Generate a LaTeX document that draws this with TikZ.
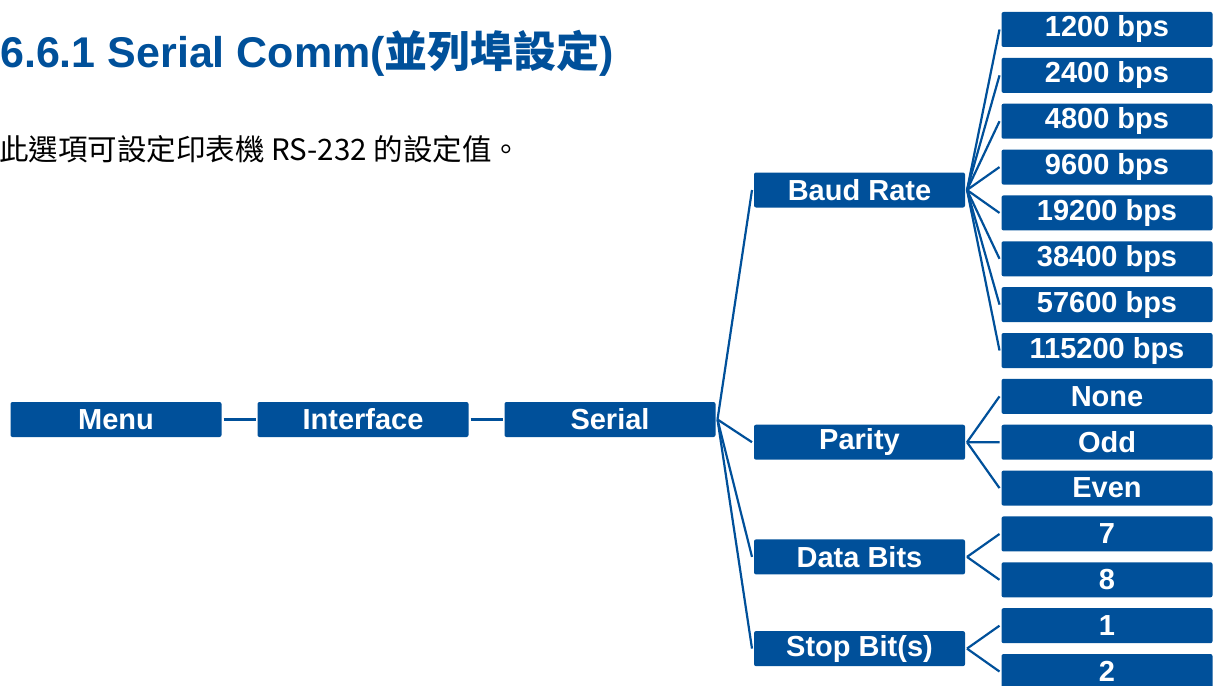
\documentclass[tikz,border=0pt]{standalone}
\usepackage{fontspec}
\setmainfont{Liberation Sans}
\newfontfamily\cjk{Noto Sans CJK TC}
\usepackage{xcolor}
\definecolor{menublue}{HTML}{00509A}
\usepackage{tikz}
\usetikzlibrary{positioning}

\begin{document}
\begin{tikzpicture}[
  x=1pt, y=-1pt,
  item/.style={rectangle, rounded corners=2pt, fill=menublue, text=white,
               minimum width=211pt, minimum height=35pt, inner sep=0pt,
               outer xsep=2pt, outer ysep=0pt,
               font=\fontsize{29}{31}\selectfont\bfseries},
  link/.style={draw=menublue, line width=2.2pt},
]
\useasboundingbox (0,0) rectangle (1214,685);

% heading
\node[anchor=base west, inner sep=0pt, text=menublue,
      font=\fontsize{43}{47}\selectfont\bfseries] (title) at (0,67)
  {6.6.1 Serial Comm({\cjk\bfseries 並列埠設定})};
\node[anchor=base west, inner sep=0pt,
      font=\cjk\fontsize{29.5}{33}\selectfont] (intro) at (-1,160)
  {此選項可設定印表機 RS-232 的設定值。};

% menu path
\node[item] (menu) at (116,419.5) {Menu};
\node[item, right=32pt of menu]  (iface)  {Interface};
\node[item, right=32pt of iface] (serial) {Serial};

% serial settings
\node[item] (baud)     at (859.5,190)   {Baud Rate};
\node[item] (parity)   at (859.5,442.2) {Parity};
\node[item] (databits) at (859.5,556.9) {Data Bits};
\node[item] (stopbits) at (859.5,648.6) {Stop Bit(s)};

% values
\node[item] (b1200) at (1107,29.5) {1200 bps};
\node[item, below=10.86pt of b1200]  (b2400)   {2400 bps};
\node[item, below=10.86pt of b2400]  (b4800)   {4800 bps};
\node[item, below=10.86pt of b4800]  (b9600)   {9600 bps};
\node[item, below=10.86pt of b9600]  (b19200)  {19200 bps};
\node[item, below=10.86pt of b19200] (b38400)  {38400 bps};
\node[item, below=10.86pt of b38400] (b57600)  {57600 bps};
\node[item, below=10.86pt of b57600] (b115200) {115200 bps};
\node[item, below=10.86pt of b115200] (pnone)  {None};
\node[item, below=10.86pt of pnone]  (podd)    {Odd};
\node[item, below=10.86pt of podd]   (peven)   {Even};
\node[item, below=10.86pt of peven]  (d7)      {7};
\node[item, below=10.86pt of d7]     (d8)      {8};
\node[item, below=10.86pt of d8]     (s1)      {1};
\node[item, below=10.86pt of s1]     (s2)      {2};

\draw[link] (menu)  -- (iface);
\draw[link] (iface) -- (serial);

\draw[link] (serial.east) -- (baud.west);
\draw[link] (serial.east) -- (parity.west);
\draw[link] (serial.east) -- (databits.west);
\draw[link] (serial.east) -- (stopbits.west);

\draw[link] (baud.east) -- (b1200.west);
\draw[link] (baud.east) -- (b2400.west);
\draw[link] (baud.east) -- (b4800.west);
\draw[link] (baud.east) -- (b9600.west);
\draw[link] (baud.east) -- (b19200.west);
\draw[link] (baud.east) -- (b38400.west);
\draw[link] (baud.east) -- (b57600.west);
\draw[link] (baud.east) -- (b115200.west);

\draw[link] (parity.east) -- (pnone.west);
\draw[link] (parity.east) -- (podd.west);
\draw[link] (parity.east) -- (peven.west);

\draw[link] (databits.east) -- (d7.west);
\draw[link] (databits.east) -- (d8.west);

\draw[link] (stopbits.east) -- (s1.west);
\draw[link] (stopbits.east) -- (s2.west);

\end{tikzpicture}
\end{document}
